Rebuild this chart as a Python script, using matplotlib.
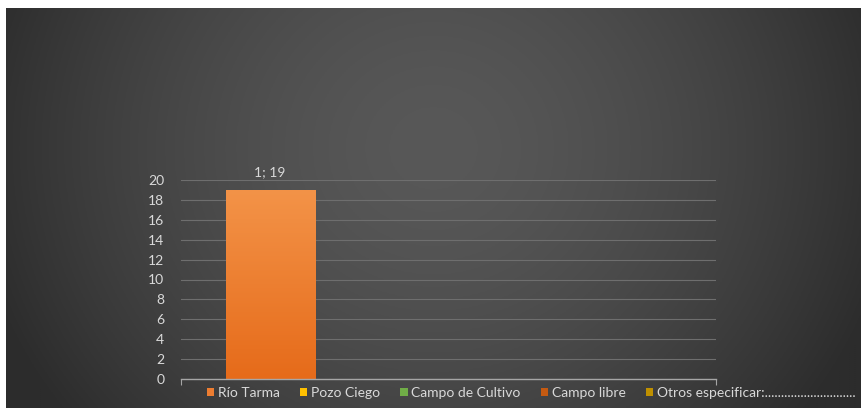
import numpy as np
import matplotlib
matplotlib.use("Agg")
import matplotlib.pyplot as plt
from matplotlib.colors import LinearSegmentedColormap

# Data
category = ["1"]
series_names = ["Río Tarma", "Pozo Ciego", "Campo de Cultivo", "Campo libre",
                "Otros especificar:............................"]
series_values = [19, 0, 0, 0, 0]
series_colors = ["#ED7D31", "#FFC000", "#70AD47", "#C55A11", "#BF9000"]
y_ticks = [0, 2, 4, 6, 8, 10, 12, 14, 16, 18, 20]

plt.rcParams["font.family"] = ["Lato", "DejaVu Sans"]
text_color = "#d9d9d9"

fig = plt.figure(figsize=(8.61, 4.08), dpi=100, facecolor="white")

# Dark radial-gradient backdrop
bg = fig.add_axes([6 / 861, 0, 1 - 6 / 861, 1 - 8 / 408])
bg.set_axis_off()
gx, gy = np.meshgrid(np.linspace(0, 1, 400), np.linspace(0, 1, 200))
d = np.sqrt(((gx - 0.5) / 0.55) ** 2 + ((gy - 0.35) / 1.1) ** 2)
d = np.clip(d, 0, 1)
shade = 0x58 / 255 - (0x58 - 0x2c) / 255 * d ** 1.6
bg.imshow(np.dstack([shade, shade, shade]), extent=[0, 1, 0, 1], aspect="auto",
          origin="upper")
bg.set_xlim(0, 1)
bg.set_ylim(0, 1)

# Plot area
ax = fig.add_axes([181 / 861, (408 - 379) / 408, (716 - 181) / 861, (379 - 180) / 408])
ax.patch.set_alpha(0)

n = len(series_names)
gap = 1.0
width = 1.0 / (n + gap)
x0 = 0
for i, (name, val, col) in enumerate(zip(series_names, series_values, series_colors)):
    xc = x0 - 0.5 + width * gap / 2 + width * (i + 0.5)
    bars = ax.bar([xc], [val], width=width, color=col, label=name, zorder=3)
    if val > 0:
        bar = bars[0]
        grad = np.linspace(0, 1, 100).reshape(-1, 1)
        cmap = LinearSegmentedColormap.from_list("g", ["#F39348", "#E66B1A"])
        im = ax.imshow(grad, cmap=cmap, extent=[xc - width / 2, xc + width / 2, 0, val],
                       aspect="auto", origin="upper", zorder=3.5)
        im.set_clip_path(bar)
        ax.text(xc, val + 1.2, f"{category[0]}; {val}", ha="center", va="bottom",
                color=text_color, fontsize=10)

ax.set_xlim(-0.5, 0.5)
ax.set_ylim(0, 20)
ax.set_yticks(y_ticks)
ax.set_xticks([-0.5, 0.5])
ax.set_xticklabels([])
ax.tick_params(axis="y", length=0, pad=12, labelcolor=text_color, labelsize=10)
ax.tick_params(axis="x", length=4, color="#a6a6a6", direction="out")
ax.grid(axis="y", color="#6e6e6e", linewidth=0.8, zorder=0)
for s in ["top", "right", "left"]:
    ax.spines[s].set_visible(False)
ax.spines["bottom"].set_color("#a6a6a6")
ax.spines["bottom"].set_linewidth(1.0)
ax.spines["bottom"].set_zorder(4)

leg = fig.legend(loc="center", bbox_to_anchor=(531 / 861, 15 / 408), ncol=n,
                 frameon=False, fontsize=10, handlelength=0.55, handleheight=0.55,
                 handletextpad=0.25, columnspacing=1.45, labelcolor=text_color)

fig.savefig("out.png", dpi=100, facecolor="white")
